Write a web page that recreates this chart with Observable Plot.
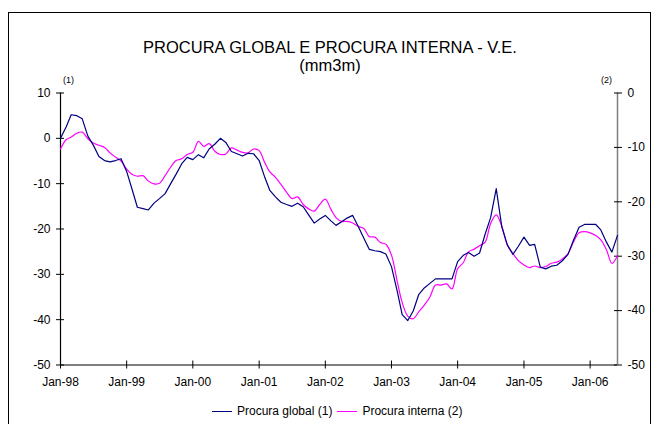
<!DOCTYPE html>
<html><head><meta charset="utf-8">
<script src="https://cdn.jsdelivr.net/npm/d3@7"></script>
<script src="https://cdn.jsdelivr.net/npm/@observablehq/plot@0.6"></script>
<style>
body{margin:0;background:#fff;}
#wrap{position:relative;width:658px;height:424px;overflow:hidden;font-family:"Liberation Sans",Arial,sans-serif;color:#000;}
#frame{position:absolute;left:8px;top:12px;width:643px;height:430px;border:1px solid #000;box-sizing:border-box;}
#chart{position:absolute;left:0;top:0;}
.t{position:absolute;white-space:nowrap;}
#title{left:0;width:660px;text-align:center;top:38px;font-size:16.5px;}
#sub{left:0;width:660px;text-align:center;top:56px;font-size:16.5px;}
.note{font-size:9px;top:75px;}
#legend{position:absolute;left:212px;top:404px;font-size:12px;display:flex;align-items:center;white-space:nowrap;}
#legend .sw{display:inline-block;width:20px;height:0;border-top:1.3px solid;margin-right:5px;}
</style></head>
<body><div id="wrap">
<div id="frame"></div>
<div id="chart"></div>
<div class="t" id="title">PROCURA GLOBAL E PROCURA INTERNA - V.E.</div>
<div class="t" id="sub">(mm3m)</div>
<div class="t note" style="left:63px">(1)</div>
<div class="t note" style="left:601px">(2)</div>
<div id="legend"></div>
</div>
<script>
const seriesNames = ["Procura global (1)", "Procura interna (2)"];
const seriesColors = ["#000080", "#FF00FF"];
const leftTicks = [10, 0, -10, -20, -30, -40, -50];
const rightTicks = [0, -10, -20, -30, -40, -50];
const tickYears = [1998, 1999, 2000, 2001, 2002, 2003, 2004, 2005, 2006];
// monthly, Jan-98 .. Jun-06
const procuraGlobal = [0, 2.5, 5.2, 5.0, 4.3, 0.5, -1.5, -4.0, -4.9, -5.2,
  -4.9, -4.5, -7.3, -11.4, -15.2, -15.5, -15.8, -14.3, -13.3, -12.2,
  -10.0, -7.9, -5.6, -4.2, -4.7, -3.6, -4.3, -2.3, -1.3, 0,
  -0.9, -2.9, -3.4, -3.9, -3.3, -3.4, -4.9, -8.6, -11.5, -12.9,
  -14.1, -14.6, -15.0, -14.3, -15.1, -16.9, -18.7, -17.8, -17.0, -18.2,
  -19.2, -18.4, -17.6, -17.0, -19.4, -22.0, -24.5, -24.8, -25.0, -25.5,
  -28.3, -33.6, -38.9, -40.2, -38.1, -34.4, -33.0, -32.0, -31.0, -31.0,
  -31.0, -31.0, -27.2, -25.8, -25.2, -26.0, -25.3, -21.1, -17.5, -11.1,
  -19.6, -23.5, -25.6, -23.8, -21.8, -23.6, -23.4, -28.4, -28.8, -28.2,
  -28.0, -27.0, -25.6, -22.5, -19.6, -19.0, -19.0, -19.0, -20.2, -22.9,
  -25.1, -21.4];
const procuraInterna = [-10.3, -8.6, -8.1, -7.4, -7.2, -8.4, -9.2, -9.6, -10.0, -11.0,
  -11.8, -12.5, -14.0, -15.0, -15.3, -15.2, -16.2, -16.7, -16.6, -15.2,
  -13.6, -12.4, -12.1, -11.3, -10.9, -8.9, -9.8, -9.3, -10.7, -11.3,
  -11.2, -10.1, -10.5, -10.9, -11.0, -10.3, -10.6, -12.8, -14.5, -15.5,
  -16.8, -18.2, -19.4, -19.1, -20.5, -21.3, -21.7, -20.5, -19.5, -21.4,
  -22.9, -23.6, -23.6, -23.9, -24.5, -24.9, -26.4, -26.5, -27.5, -27.8,
  -29.8, -34.5, -38.5, -41.0, -41.5, -40.2, -39.0, -37.5, -35.3, -35.3,
  -35.1, -36.0, -32.3, -31.2, -29.2, -28.7, -28.1, -27.4, -24.0, -22.4,
  -24.5, -27.9, -29.5, -30.8, -31.6, -32.1, -31.8, -32.1, -31.9, -31.3,
  -31.1, -30.5, -29.5, -27.4, -25.7, -25.5, -25.7, -26.2, -27.0, -28.8,
  -31.3, -29.9];

const months = procuraGlobal.map((_, i) => new Date(Date.UTC(1998, i, 1)));
// right axis (2): 0..-50 maps onto left axis (1): 10..-50
const rightToLeft = r => 1.2 * r + 10;
const leftToRight = y => (y - 10) / 1.2;

const globalData = months.map((d, i) => ({date: d, v: procuraGlobal[i]}));
const internaData = months.map((d, i) => ({date: d, v: rightToLeft(procuraInterna[i])}));
const xTicks = tickYears.map(y => new Date(Date.UTC(y, 0, 1)));
const xDomain = [months[0], months[months.length - 1]];
const fmt = d => "Jan-" + String(d.getUTCFullYear()).slice(2);

const plot = Plot.plot({
  width: 658, height: 424,
  marginLeft: 60, marginRight: 41, marginTop: 92.5, marginBottom: 59.5,
  style: {fontFamily: "'Liberation Sans', Arial, sans-serif", fontSize: "12px", background: "transparent", color: "#000"},
  x: {type: "time", domain: xDomain},
  y: {domain: [-50, 10]},
  marks: [
    Plot.ruleX([xDomain[1]], {stroke: "#808080", strokeWidth: 1.5}),
    Plot.ruleX([xDomain[0]], {stroke: "#000", strokeWidth: 1.2}),
    Plot.ruleY([-50], {stroke: "#000", strokeWidth: 1.2}),
    Plot.axisY({ticks: leftTicks, tickSize: 8, dx: 4, fill: "none", label: null}),
    Plot.axisY({ticks: leftTicks, tickSize: 0, tickPadding: 10, label: null, tickFormat: d => String(d)}),
    Plot.axisY({anchor: "right", ticks: rightTicks.map(rightToLeft), tickSize: 8, dx: -4, fill: "none", label: null}),
    Plot.axisY({anchor: "right", ticks: rightTicks.map(rightToLeft), tickSize: 0, tickPadding: 10, label: null, tickFormat: y => String(Math.round(leftToRight(y)))}),
    Plot.axisX({ticks: xTicks, tickSize: 8, dy: -4, fill: "none", label: null}),
    Plot.axisX({ticks: xTicks, tickSize: 0, tickPadding: 12, label: null, tickFormat: fmt}),
    Plot.line(internaData, {x: "date", y: "v", stroke: seriesColors[1], strokeWidth: 1.2, curve: "catmull-rom"}),
    Plot.line(globalData, {x: "date", y: "v", stroke: seriesColors[0], strokeWidth: 1.2})
  ]
});
document.getElementById("chart").appendChild(plot);

const legend = document.getElementById("legend");
seriesNames.forEach((n, i) => {
  const item = document.createElement("span");
  item.style.display = "inline-flex";
  item.style.alignItems = "center";
  item.style.marginRight = "5px";
  item.innerHTML = `<span class="sw" style="border-color:${seriesColors[i]}"></span>${n}`;
  legend.appendChild(item);
});
</script>
</body></html>
